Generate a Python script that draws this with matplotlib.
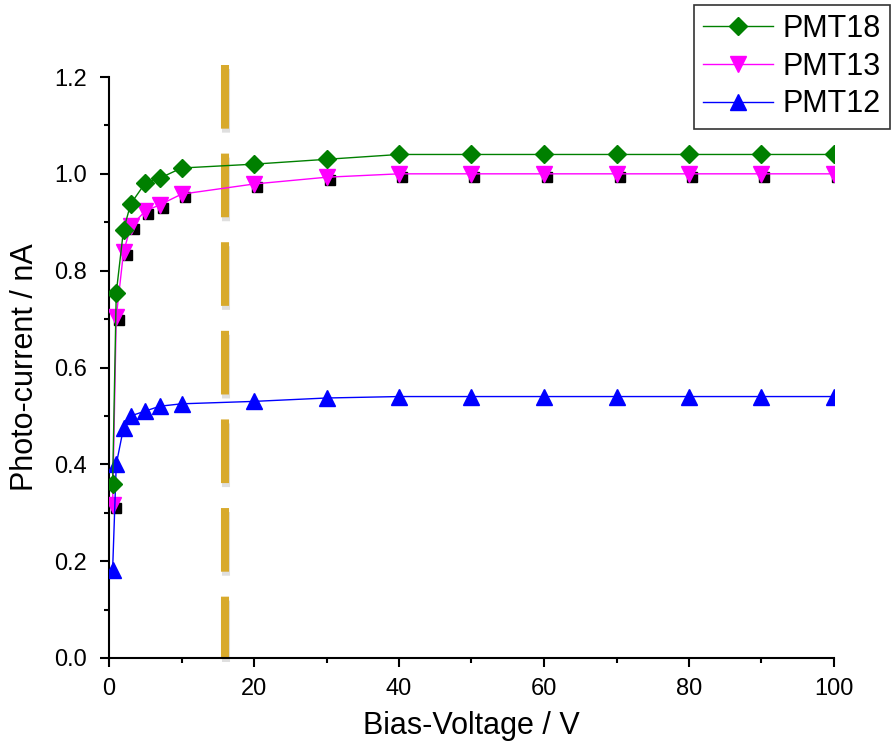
import numpy as np
import matplotlib
matplotlib.use("Agg")
import matplotlib.pyplot as plt
import matplotlib.transforms as mtransforms
import matplotlib.patheffects as pe

plt.rcParams['font.family'] = ['Liberation Sans', 'DejaVu Sans']

# bias voltage (V)
voltage = [0.5, 1, 2, 3, 5, 7, 10, 20, 30, 40, 50, 60, 70, 80, 90, 100]
# photo-current (nA)
pmt18 = [0.36, 0.754, 0.884, 0.938, 0.981, 0.991, 1.012, 1.02, 1.03, 1.04,
         1.04, 1.04, 1.04, 1.04, 1.04, 1.04]
pmt13 = [0.316, 0.704, 0.838, 0.892, 0.923, 0.936, 0.958, 0.979, 0.993, 1.0,
         1.0, 1.0, 1.0, 1.0, 1.0, 1.0]
pmt12 = [0.182, 0.40, 0.475, 0.50, 0.51, 0.52, 0.525, 0.53, 0.537, 0.54,
         0.54, 0.54, 0.54, 0.54, 0.54, 0.54]
threshold_v = 16

fig = plt.figure(figsize=(8.92, 7.47), dpi=100)
ax = fig.add_axes([109/892, 1-658/747, (834-109)/892, (658-77)/747])

# black squares peeking out under the magenta triangles
shift = mtransforms.ScaledTranslation(3/100, -3/100, fig.dpi_scale_trans)
ax.plot(voltage, pmt13, ls='none', marker='s', ms=7.5, color='black',
        transform=ax.transData + shift, zorder=2)

l18, = ax.plot(voltage, pmt18, color='#008000', lw=1.0, marker='D', ms=9,
               mec='#008000', label='PMT18', zorder=4)
l13, = ax.plot(voltage, pmt13, color='#ff00ff', lw=1.0, marker='v', ms=11.5,
               mec='#ff00ff', label='PMT13', zorder=3)
l12, = ax.plot(voltage, pmt12, color='#0000ff', lw=1.0, marker='^', ms=11.5,
               mec='#0000ff', label='PMT12', zorder=3)

# dashed marker line
ax.plot([threshold_v, threshold_v], [1.225, 0], color='#d8aa2c', lw=5.8,
        dashes=(7.9, 3.1), solid_capstyle='butt', dash_capstyle='butt',
        clip_on=False, zorder=1,
        path_effects=[pe.SimpleLineShadow(offset=(0.5, -3), alpha=0.25,
                                          shadow_color='gray'),
                      pe.Normal()])

ax.set_xlim(0, 100)
ax.set_ylim(0, 1.2)
ax.set_xticks(np.arange(0, 101, 20))
ax.set_xticks(np.arange(10, 100, 20), minor=True)
ax.set_yticks(np.arange(0, 1.21, 0.2))
ax.set_yticks(np.arange(0.1, 1.2, 0.2), minor=True)
ax.yaxis.set_major_formatter(matplotlib.ticker.FormatStrFormatter('%.1f'))

for s in ['top', 'right']:
    ax.spines[s].set_visible(False)
for s in ['left', 'bottom']:
    ax.spines[s].set_linewidth(1.5)
ax.tick_params(which='major', direction='out', length=6.5, width=1.5,
               labelsize=17)
ax.tick_params(which='minor', direction='out', length=3.5, width=1.5)
ax.tick_params(axis='x', which='major', pad=8)
ax.tick_params(axis='y', which='major', pad=9.5)

ax.set_xlabel('Bias-Voltage / V', fontsize=22, labelpad=8)
ax.set_ylabel('Photo-current / nA', fontsize=22, labelpad=10)

leg = fig.legend(handles=[l18, l13, l12], loc='upper right',
                 bbox_to_anchor=(890/892, 1-5/747), fontsize=22,
                 numpoints=1, fancybox=False, framealpha=1,
                 edgecolor='#333333', handlelength=2.3, handletextpad=0.3,
                 labelspacing=0.25, borderpad=0.3, borderaxespad=0)
leg.get_frame().set_linewidth(1.2)

fig.savefig('out.png', dpi=100)
